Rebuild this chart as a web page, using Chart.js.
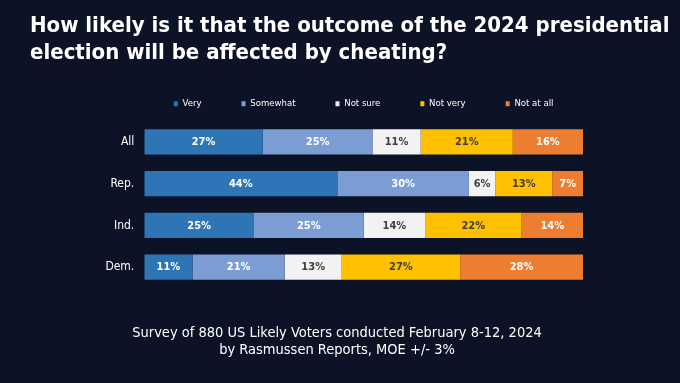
<!DOCTYPE html>
<html>
<head>
<meta charset="utf-8">
<script src="https://cdn.jsdelivr.net/npm/chart.js@4.4.1/dist/chart.umd.min.js"></script>
<style>
  html, body { margin: 0; padding: 0; background: #0d1326; }
  #wrap { position: relative; width: 680px; height: 383px; }
</style>
</head>
<body>
<div id="wrap"><canvas id="chart" width="680" height="383"></canvas></div>
<script>
const groups = ["All", "Rep.", "Ind.", "Dem."];
const very = [27, 44, 25, 11];
const somewhat = [25, 30, 25, 21];
const not_sure = [11, 6, 14, 13];
const not_very = [21, 13, 22, 27];
const not_at_all = [16, 7, 14, 28];

const answer_labels = ["Very", "Somewhat", "Not sure", "Not very", "Not at all"];
const bar_colours = ["#2e75b6", "#7c9cd4", "#f2f2f2", "#ffc000", "#ed7d31"];
const value_colours = ["#ffffff", "#ffffff", "#404040", "#404040", "#ffffff"];

const title_lines = [
  "How likely is it that the outcome of the 2024 presidential",
  "election will be affected by cheating?"
];
const footer_lines = [
  "Survey of 880 US Likely Voters conducted February 8-12, 2024",
  "by Rasmussen Reports, MOE +/- 3%"
];

const FONT = '"DejaVu Sans Condensed", "DejaVu Sans", sans-serif';

// title above the legend and the survey note under the bars
const captions = {
  id: "captions",
  afterDraw(chart) {
    const ctx = chart.ctx;
    ctx.save();
    ctx.fillStyle = "#ffffff";
    ctx.textBaseline = "alphabetic";
    ctx.font = "bold 22px " + FONT;
    ctx.textAlign = "left";
    ctx.fillText(title_lines[0], 30, 32);
    ctx.fillText(title_lines[1], 30, 59);
    ctx.font = "14.5px " + FONT;
    ctx.textAlign = "center";
    ctx.fillText(footer_lines[0], 337, 337);
    ctx.fillText(footer_lines[1], 337, 353.5);
    ctx.restore();
  }
};

// percentage written in the middle of each segment
const segmentValues = {
  id: "segmentValues",
  afterDatasetsDraw(chart) {
    const ctx = chart.ctx;
    ctx.save();
    ctx.font = "bold 11px " + FONT;
    ctx.textAlign = "center";
    ctx.textBaseline = "middle";
    chart.data.datasets.forEach((ds, i) => {
      const meta = chart.getDatasetMeta(i);
      meta.data.forEach((bar, j) => {
        const v = ds.data[j];
        if (!v) return;
        ctx.fillStyle = value_colours[i];
        ctx.fillText(v + "%", (bar.x + bar.base) / 2, bar.y + 0.5);
      });
    });
    ctx.restore();
  }
};

const series = [very, somewhat, not_sure, not_very, not_at_all];

const datasets = series.map((values, i) => ({
  label: answer_labels[i],
  data: values,
  backgroundColor: bar_colours[i],
  borderWidth: 0,
  barPercentage: 0.6,
  categoryPercentage: 1
}));

new Chart(document.getElementById("chart").getContext("2d"), {
  type: "bar",
  data: { labels: groups, datasets },
  options: {
    indexAxis: "y",
    responsive: false,
    animation: false,
    layout: {
      padding: { top: 59, left: 47.2, right: 0, bottom: 95 }
    },
    scales: {
      x: {
        stacked: true,
        min: 0,
        max: 100,
        position: "top",
        ticks: { display: false },
        grid: { display: false, drawTicks: false },
        border: { display: false },
        afterFit: (scale) => { scale.height = 2.5; }
      },
      y: {
        stacked: true,
        grid: { display: false, drawTicks: false },
        border: { display: false },
        ticks: {
          color: "#ffffff",
          padding: 10,
          font: { family: FONT, size: 12 }
        },
        afterFit: (scale) => { scale.width = 97.1; }
      },
      // empty strip on the right so the bars stop where the reference stops
      yRight: {
        type: "linear",
        position: "right",
        ticks: { display: false },
        grid: { display: false, drawTicks: false },
        border: { display: false },
        afterFit: (scale) => { scale.width = 97; }
      }
    },
    plugins: {
      legend: {
        position: "top",
        onClick: () => {},
        labels: {
          color: "#ffffff",
          boxWidth: 4,
          boxHeight: 5,
          padding: 40,
          font: { family: FONT, size: 9.5 }
        }
      },
      tooltip: { enabled: false }
    }
  },
  plugins: [captions, segmentValues]
});
</script>
</body>
</html>
